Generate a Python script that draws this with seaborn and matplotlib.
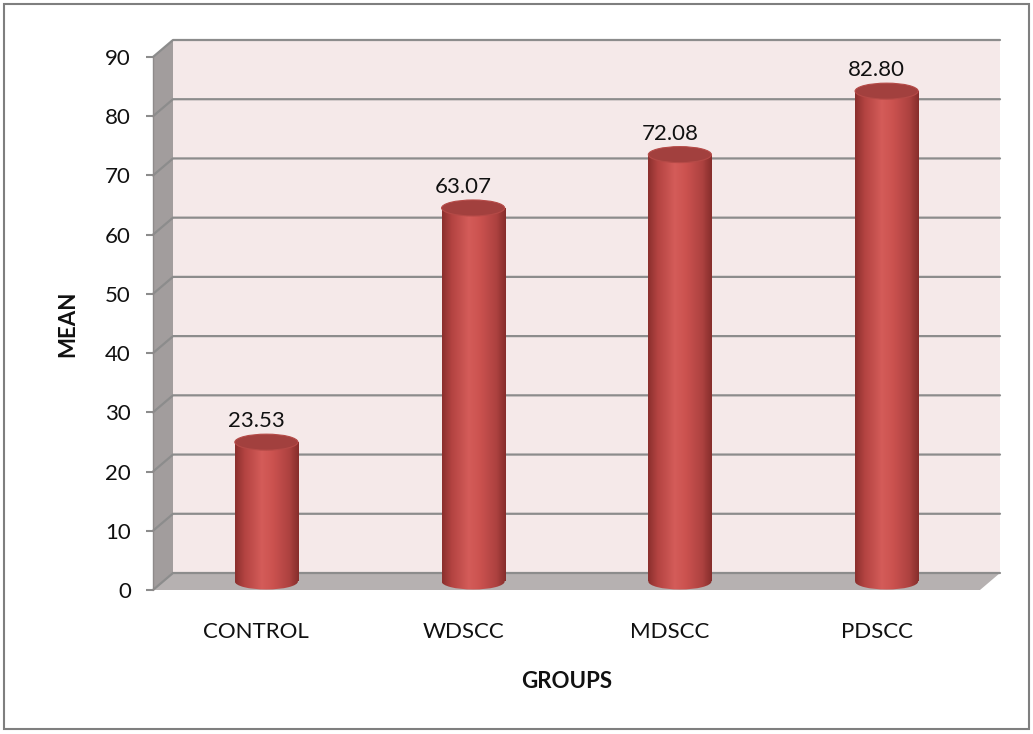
import numpy as np
import matplotlib
matplotlib.use("Agg")
import matplotlib.pyplot as plt
import seaborn as sns
from matplotlib.patches import Polygon, Ellipse, Rectangle
from matplotlib.lines import Line2D
from matplotlib.colors import LinearSegmentedColormap

groups = ["CONTROL", "WDSCC", "MDSCC", "PDSCC"]
means = [23.53, 63.07, 72.08, 82.80]
yticks = list(range(0, 91, 10))

sns.set_theme(style="white")
plt.rcParams['font.family'] = ['Lato', 'DejaVu Sans']

W, H = 1033, 734
fig = plt.figure(figsize=(W / 100, H / 100), dpi=100)
ax_l, ax_r, ax_b, ax_t = 153, 980, 590, 57
ax = fig.add_axes([ax_l / W, (H - ax_b) / H, (ax_r - ax_l) / W, (ax_b - ax_t) / H])

XMIN, XMAX, YMIN, YMAX = -0.5, 3.5, 0, 90
# depth offset of the back wall (in data units, from pixel depth 20 x 17)
DX = 20 * (XMAX - XMIN) / (ax_r - ax_l)
DY = 17 * (YMAX - YMIN) / (ax_b - ax_t)

bar_w = 0.305
sns.barplot(x=groups, y=means, width=bar_w, color="#c0504d", ax=ax, zorder=5)
ax.set_xlim(XMIN, XMAX)
ax.set_ylim(YMIN, YMAX)

grid_c = "#8c8c8c"
# back wall
ax.add_patch(Rectangle((XMIN + DX, YMIN + DY), XMAX - XMIN, YMAX - YMIN,
                       fc="#f5e9e9", ec="none", zorder=0, clip_on=False))
# left wall
ax.add_patch(Polygon([(XMIN, YMIN), (XMIN, YMAX), (XMIN + DX, YMAX + DY), (XMIN + DX, YMIN + DY)],
                     closed=True, fc="#a29d9d", ec="none", zorder=1, clip_on=False))
# floor
ax.add_patch(Polygon([(XMIN, YMIN), (XMAX, YMIN), (XMAX + DX, YMIN + DY), (XMIN + DX, YMIN + DY)],
                     closed=True, fc="#b6b1b1", ec="none", zorder=1, clip_on=False))
for v in yticks:
    ax.add_line(Line2D([XMIN, XMIN + DX, XMAX + DX], [v, v + DY, v + DY],
                       color=grid_c, lw=1.6, zorder=2, clip_on=False))
ax.add_line(Line2D([XMIN, XMIN], [YMIN, YMAX], color="#8e8a8a", lw=1.0, zorder=2, clip_on=False))

cmap = LinearSegmentedColormap.from_list("cyl", [
    (0.0, "#8a2f2d"), (0.15, "#b34341"), (0.42, "#d45c59"), (0.6, "#cb524f"),
    (0.85, "#ad4240"), (1.0, "#862d2b")])
grad = np.linspace(0, 1, 256).reshape(1, -1)
eh = 16 * (YMAX - YMIN) / (ax_b - ax_t)

for p, v in zip(ax.patches[:len(means)] if False else [pp for pp in ax.patches if isinstance(pp, Rectangle) and pp.get_width() < 1], means):
    pass

bars = [pp for pp in ax.containers[0]]
for p, v in zip(bars, means):
    x0 = p.get_x() + DX / 2
    p.set_x(x0)
    p.set_y(DY / 2)
    p.set_height(v)
    p.set_facecolor("none")
    p.set_edgecolor("none")
    cx = x0 + bar_w / 2
    # bottom ellipse
    be = Ellipse((cx, DY / 2), bar_w, eh, fc="none", ec="none", zorder=4)
    ax.add_patch(be)
    im = ax.imshow(grad, extent=[x0, x0 + bar_w, DY / 2 - eh, DY / 2 + eh], aspect="auto",
                   cmap=cmap, zorder=4, clip_on=True)
    im.set_clip_path(be)
    # body
    body = Rectangle((x0, DY / 2), bar_w, v, fc="none", ec="none", zorder=5)
    ax.add_patch(body)
    im2 = ax.imshow(grad, extent=[x0, x0 + bar_w, DY / 2, DY / 2 + v], aspect="auto",
                    cmap=cmap, zorder=5)
    im2.set_clip_path(body)
    # top ellipse
    ax.add_patch(Ellipse((cx, v + DY / 2), bar_w, eh, fc="#a2403e", ec="#b54a47", lw=0.8,
                         zorder=6, clip_on=False))

for i, v in enumerate(means):
    ax.text(i, v + 3.3, f"{v:.2f}", ha="center", va="bottom", fontsize=16, color="#111111",
            zorder=7, clip_on=False)

ax.set_xlim(XMIN, XMAX)
ax.set_ylim(YMIN, YMAX)
ax.set_yticks(yticks)
ax.set_yticklabels([str(t) for t in yticks])
ax.tick_params(axis="y", left=True, length=5, width=1.5, color="#8c8c8c", pad=11,
               labelsize=16, labelcolor="#111111")
ax.tick_params(axis="x", bottom=False, length=0, pad=23, labelsize=16, labelcolor="#111111")
for s in ax.spines.values():
    s.set_visible(False)
ax.set_facecolor("none")

ax.set_xlabel("GROUPS", fontsize=16, fontweight="bold", color="#111111")
ax.xaxis.set_label_coords(0.5, (ax_b - 682) / (ax_b - ax_t))
ax.xaxis.label.set_va("center")
ax.set_ylabel("MEAN", fontsize=16, fontweight="bold", color="#111111")
ax.yaxis.set_label_coords((68 - ax_l) / (ax_r - ax_l), 0.5)
ax.yaxis.label.set_va("center")
ax.yaxis.label.set_ha("center")

fig.patches.append(Rectangle((4 / W, 5 / H), 1025 / W, 725 / H, transform=fig.transFigure,
                             fill=False, ec="#7f7f7f", lw=1.5))

fig.savefig("out.png", dpi=100, facecolor="white")
